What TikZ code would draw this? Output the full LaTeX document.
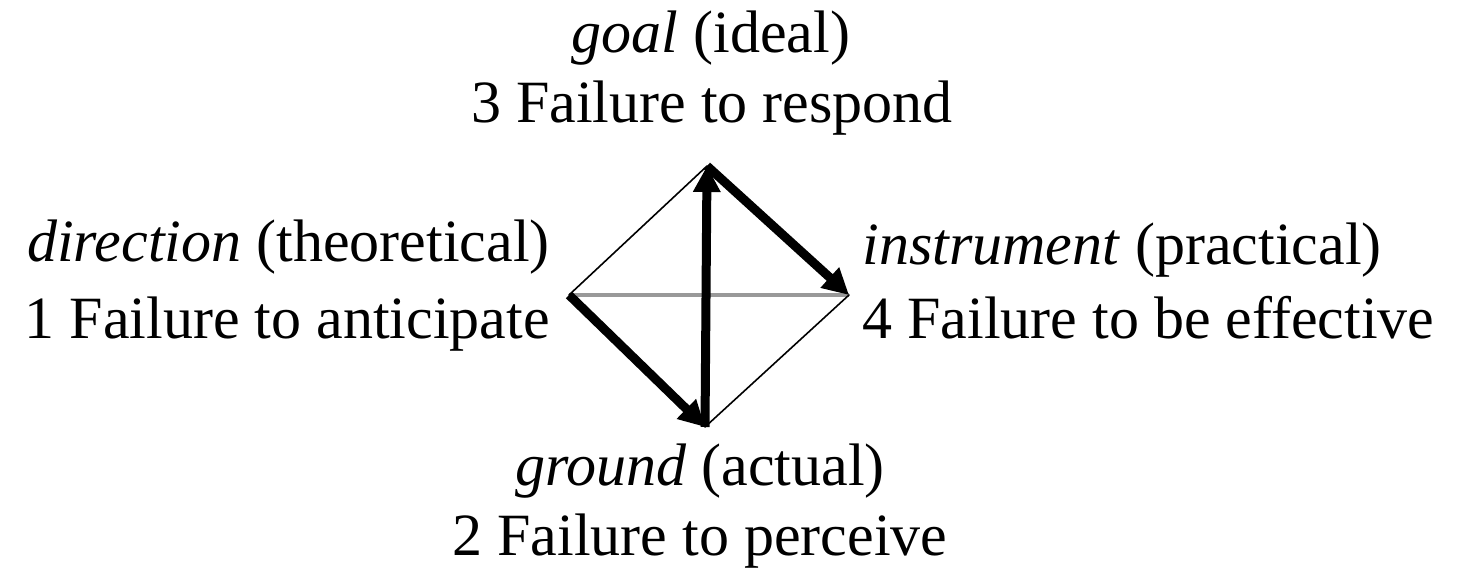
\documentclass[tikz,border=0pt]{standalone}
\usepackage{fontspec}
\setmainfont{Liberation Serif}
\usetikzlibrary{arrows.meta}
\begin{document}
\begin{tikzpicture}[x=0.5pt,y=-0.5pt,
  lbl/.style={inner sep=0pt, font=\fontsize{30pt}{36pt}\selectfont},
  edgeline/.style={line width=0.8pt, line cap=round},
  axisline/.style={line width=2pt, draw=black!40},
  flow/.style={line width=4.5pt, -{Triangle[length=13pt,width=13pt]}}]
\useasboundingbox (0,0) rectangle (1459,571);
% vertices of the diamond
\coordinate (T) at (707,166);
\coordinate (L) at (569,295);
\coordinate (R) at (849,295);
\coordinate (B) at (705,427);
% labels
\node[lbl, anchor=base] (goal) at (711,53) {\textit{goal} (ideal)};
\node[lbl, anchor=base] (f3) at (712,123) {3 Failure to respond};
\node[lbl, anchor=base east] (dir) at (550,262) {\textit{direction} (theoretical)};
\node[lbl, anchor=base east] (f1) at (550,338) {1 Failure to anticipate};
\node[lbl, anchor=base west] (ins) at (862,265) {\textit{instrument} (practical)};
\node[lbl, anchor=base west] (f4) at (862,338) {4 Failure to be effective};
\node[lbl, anchor=base] (grd) at (700,485) {\textit{ground} (actual)};
\node[lbl, anchor=base] (f2) at (700,555) {2 Failure to perceive};
% connectors
\draw[axisline] (L) -- (R);
\draw[edgeline] (L) -- (T);
\draw[edgeline] (R) -- (B);
\draw[flow] (L) -- (B);
\draw[flow] (B) -- (T);
\draw[flow] (T) -- (R);
\end{tikzpicture}
\end{document}
